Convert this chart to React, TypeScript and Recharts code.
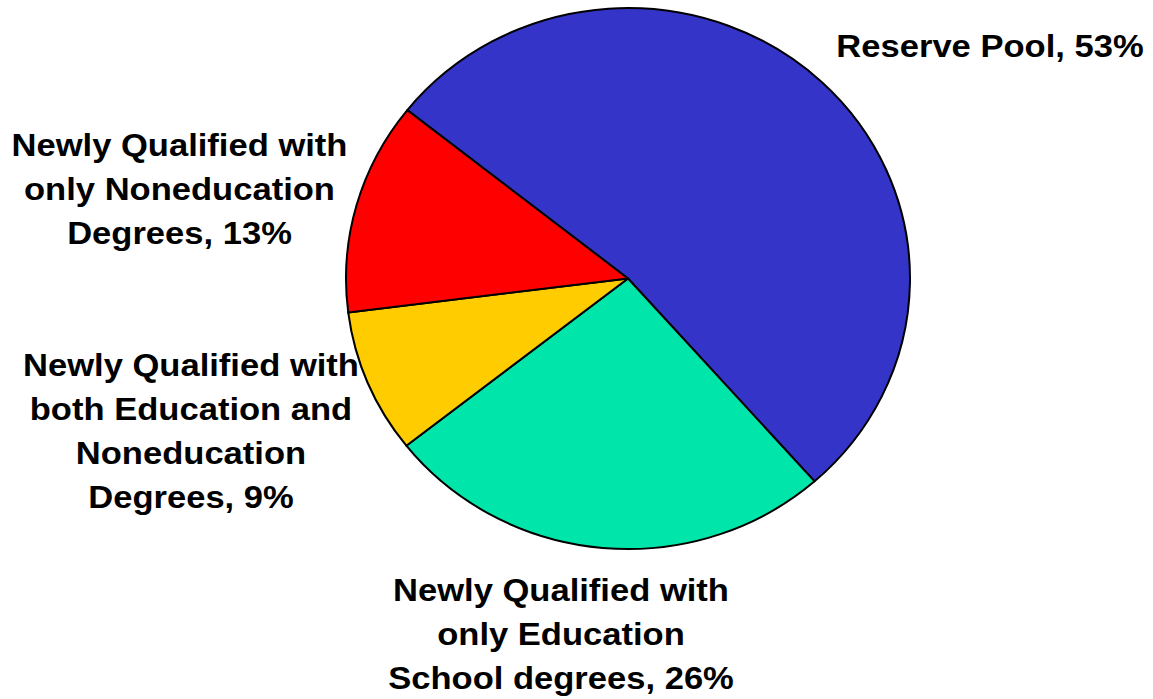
import React from 'react';
import { PieChart, Pie, Cell } from 'recharts';

// slice order runs clockwise from the upper-left edge of the blue slice
const categories = [
  'Reserve Pool',
  'Newly Qualified with only Education School degrees',
  'Newly Qualified with both Education and Noneducation Degrees',
  'Newly Qualified with only Noneducation Degrees',
];
const shares = [52.8, 25.9, 8.6, 12.7];
const labelLines = [
  ['Reserve Pool'],
  ['Newly Qualified with', 'only Education', 'School degrees'],
  ['Newly Qualified with', 'both Education and', 'Noneducation', 'Degrees'],
  ['Newly Qualified with', 'only Noneducation', 'Degrees'],
];

const COLORS = ['#3434C8', '#00E5AA', '#FFCC00', '#FF0000'];
// where each label block sits (center x, first baseline y)
const LABEL_POS = [
  { x: 990, y: 57 },
  { x: 561, y: 601 },
  { x: 191, y: 376 },
  { x: 179.5, y: 156 },
];
const LINE_H = 44;
const TEXT_STRETCH = 1.08; // source text is a bit wider than plain Arial
const X_STRETCH = 1.0425; // the pie in the source is a little wider than tall

const data = categories.map((name, i) => ({ name, value: shares[i] }));

const EllipseSector = (props: any) => {
  const { cx, cy, outerRadius, startAngle, endAngle, fill } = props;
  const rx = outerRadius * X_STRETCH;
  const ry = outerRadius;
  const rad = Math.PI / 180;
  const x0 = cx + rx * Math.cos(startAngle * rad);
  const y0 = cy - ry * Math.sin(startAngle * rad);
  const x1 = cx + rx * Math.cos(endAngle * rad);
  const y1 = cy - ry * Math.sin(endAngle * rad);
  const large = Math.abs(endAngle - startAngle) > 180 ? 1 : 0;
  const sweep = endAngle < startAngle ? 1 : 0;
  const d = `M${cx},${cy} L${x0},${y0} A${rx},${ry} 0 ${large} ${sweep} ${x1},${y1} Z`;
  return <path d={d} fill={fill} stroke="#000" strokeWidth={2} strokeLinejoin="round" />;
};

const renderLabel = (props: any) => {
  const { index, value } = props;
  const pos = LABEL_POS[index];
  const lines = labelLines[index];
  const pct = `${Math.round(value)}%`;
  return (
    <g transform={`translate(${pos.x},0) scale(${TEXT_STRETCH},1) translate(${-pos.x},0)`}>
      <text
        x={pos.x}
        y={pos.y}
        textAnchor="middle"
        fill="#000"
        fontFamily="'Liberation Sans', Arial, sans-serif"
        fontWeight="bold"
        fontSize={32}
      >
        {lines.map((line, i) => (
          <tspan key={i} x={pos.x} y={pos.y + i * LINE_H}>
            {i === lines.length - 1 ? `${line}, ${pct}` : line}
          </tspan>
        ))}
      </text>
    </g>
  );
};

const App: React.FC = () => {
  return (
    <div style={{ position: 'absolute', left: 0, top: 0, width: 1153, height: 699, background: '#fff' }}>
      <PieChart width={1153} height={699} margin={{ top: 0, right: 0, bottom: 0, left: 0 }}>
        <Pie
          data={data}
          dataKey="value"
          cx={628}
          cy={278.5}
          outerRadius={270.5}
          startAngle={141.5}
          endAngle={-218.5}
          stroke="#000"
          strokeWidth={2}
          shape={EllipseSector}
          label={renderLabel}
          labelLine={false}
          isAnimationActive={false}
        >
          {data.map((entry, index) => (
            <Cell key={`cell-${index}`} fill={COLORS[index]} />
          ))}
        </Pie>
      </PieChart>
    </div>
  );
};

export default App;
